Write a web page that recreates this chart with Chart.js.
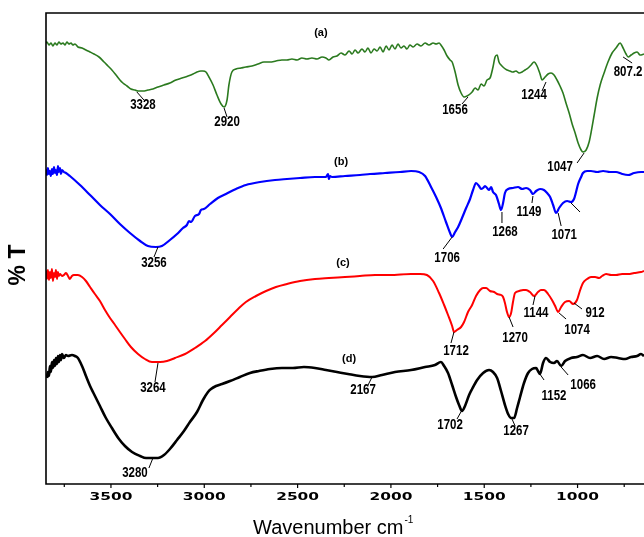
<!DOCTYPE html>
<html>
<head>
<meta charset="utf-8">
<script src="https://cdn.jsdelivr.net/npm/chart.js@4/dist/chart.umd.min.js"></script>
<style>
html,body{margin:0;padding:0;background:#fff;overflow:hidden;}
canvas{display:block;}
</style>
</head>
<body>
<canvas id="c" width="644" height="537"></canvas>
<script>
// ---- data: wavenumber (cm-1) and transmittance (arbitrary, offset) ----
const wnA = [3854,3843,3832,3821,3811,3800,3789,3779,3768,3757,3746,3736,3725,3714,3704,3693,3677,3655,3634,3612,3591,3564,3537,3516,3495,3473,3452,3436,3414,3393,3371,3355,3328,3302,3275,3248,3216,3184,3152,3119,3087,3060,3039,3018,3007,2991,2975,2953,2932,2910,2894,2878,2868,2852,2830,2803,2777,2744,2712,2680,2648,2616,2584,2557,2530,2503,2477,2450,2423,2396,2369,2348,2332,2310,2289,2267,2246,2224,2208,2192,2176,2155,2139,2123,2107,2090,2074,2058,2042,2026,2010,1994,1978,1962,1946,1930,1914,1898,1881,1860,1839,1817,1796,1774,1758,1742,1732,1715,1699,1683,1672,1656,1640,1624,1608,1592,1576,1565,1549,1533,1517,1501,1485,1469,1453,1442,1431,1421,1410,1394,1378,1362,1346,1330,1313,1297,1281,1265,1249,1233,1217,1201,1190,1174,1158,1142,1126,1110,1094,1078,1062,1045,1029,1013,997,981,971,954,938,928,911,895,879,858,837,815,794,772,756,740,729,713,697,681,665,644];
const tA = [440,442,439,441,438,441,439,442,440,441,439,442,440,441,439,440,437,436,434,432,430,427,422,418,414,409,404,401,398,395,394,393,393,394,395,397,399,401,404,406,408,410,412,413,413,412,407,399,389,380,377,384,399,412,415,416,417,418,420,422,422,423,424,424,425,424,426,425,426,425,427,426,424,427,428,431,429,433,430,434,431,435,432,436,431,435,433,437,432,438,434,439,435,440,436,438,435,439,437,440,438,441,439,441,440,441,439,434,428,424,422,412,399,391,387,388,390,392,396,394,400,398,404,406,417,427,429,422,419,416,414,413,412,413,411,412,414,416,419,422,418,410,404,407,410,411,409,404,398,391,381,371,360,351,341,334,332,334,342,351,369,386,399,411,422,431,436,441,436,430,427,429,431,432,429,430];

const wnB = [3854,3848,3843,3838,3832,3827,3822,3816,3811,3805,3800,3795,3789,3784,3779,3773,3768,3762,3752,3741,3720,3666,3612,3559,3505,3452,3398,3344,3302,3259,3227,3184,3146,3114,3093,3082,3071,3050,3028,3018,3002,2969,2927,2884,2830,2777,2701,2621,2557,2487,2407,2348,2337,2332,2326,2316,2246,2166,2112,2032,1951,1892,1849,1817,1785,1758,1732,1705,1683,1672,1656,1640,1619,1597,1576,1560,1544,1528,1517,1506,1496,1485,1474,1463,1453,1437,1421,1410,1399,1389,1372,1346,1319,1297,1276,1255,1239,1222,1201,1180,1163,1147,1131,1115,1099,1078,1056,1035,1019,1008,997,981,971,949,928,895,863,826,794,761,729,697,660,644];
const tB = [311,314,309,316,310,313,308,315,310,317,311,314,309,318,312,316,310,314,312,311,308,299,289,279,270,260,251,243,238,237,238,244,250,256,259,263,262,268,270,274,275,280,286,290,295,299,302,304,305,306,307,307,310,305,308,307,308,309,310,311,312,313,312,308,297,287,276,262,251,247,252,257,266,276,285,294,301,298,295,296,298,296,294,297,292,289,280,274,281,291,295,296,297,295,296,294,290,293,295,294,291,287,279,271,276,281,283,282,285,292,300,307,311,313,313,312,313,312,312,310,309,311,312,312];

const wnC = [3854,3848,3843,3838,3832,3827,3822,3816,3811,3805,3800,3795,3789,3784,3779,3773,3762,3752,3741,3730,3720,3709,3698,3677,3655,3634,3612,3586,3559,3532,3505,3478,3452,3425,3393,3355,3318,3280,3237,3200,3157,3103,3050,2996,2948,2905,2862,2819,2777,2723,2669,2616,2557,2487,2407,2332,2246,2166,2085,2005,1892,1844,1807,1774,1742,1715,1694,1672,1662,1646,1624,1608,1587,1565,1544,1522,1506,1490,1469,1447,1431,1410,1399,1389,1378,1367,1356,1346,1335,1313,1292,1276,1255,1233,1212,1196,1180,1158,1137,1120,1104,1088,1067,1045,1024,1003,986,971,949,928,906,885,869,847,820,794,761,729,697,660,644];
const tC = [209,213,205,214,204,212,206,215,203,211,207,214,205,212,208,210,208,209,211,208,205,208,209,209,207,203,197,190,183,174,166,159,152,145,137,130,125,122,122,123,126,130,136,143,151,159,167,175,182,188,193,197,200,203,205,206,207,208,209,209,210,210,209,203,191,179,169,158,152,154,157,162,172,179,188,194,196,196,193,192,190,189,187,181,172,167,171,182,191,193,194,194,192,188,192,194,194,190,184,178,172,177,182,183,180,184,194,201,205,207,207,206,208,210,209,209,210,210,211,212,213];

const wnD = [3843,3838,3832,3827,3822,3816,3811,3805,3800,3795,3789,3784,3779,3773,3768,3762,3752,3741,3730,3709,3693,3677,3655,3634,3612,3591,3559,3527,3495,3457,3425,3387,3344,3312,3280,3248,3216,3184,3146,3109,3077,3039,3007,2980,2964,2937,2905,2862,2809,2755,2707,2648,2584,2525,2466,2407,2348,2289,2230,2166,2101,2048,1978,1892,1817,1764,1732,1715,1694,1672,1651,1635,1619,1603,1581,1565,1538,1506,1474,1453,1431,1410,1389,1372,1356,1340,1324,1308,1287,1265,1244,1222,1212,1201,1185,1169,1147,1126,1110,1088,1067,1035,1003,971,933,895,858,820,783,745,713,681,660,644];
const tD = [106,112,108,118,112,122,116,124,118,126,120,128,122,129,124,130,126,129,128,129,128,126,118,108,98,90,78,66,56,45,38,32,28,26,26,26,29,35,44,53,62,72,84,92,95,98,100,103,107,111,113,115,116,116,117,116,114,112,110,108,107,109,112,114,117,119,122,118,111,99,87,79,73,78,89,95,104,111,114,112,106,93,79,70,66,66,76,87,101,111,115,116,113,110,121,126,122,121,123,118,123,126,127,129,126,128,125,127,126,125,127,128,130,128];

const seriesNames = ['(a)','(b)','(c)','(d)'];
const seriesColors = ['#2b7a1f','#0000ff','#ff0000','#000000'];
const majorTicks = [3500,3000,2500,2000,1500,1000];
const minorTicks = [3750,3250,2750,2250,1750,1250,750];

// series label positions (wavenumber, transmittance)
const seriesLabelWn = [2375,2267,2257,2224];
const seriesLabelT = [451,322,221,125];

// peak annotations: text, anchor on curve (wn, T), leader end offset px, label offset px
const peaks = [
  ['3328',3361,392,[7,8],[6,13]],
  ['2920',2894,376,[3,9],[3,14]],
  ['1656',1587,387,[-6,7],[-13,13]],
  ['1244',1169,402,[-4,9],[-12,13]],
  ['1047',965,331,[-7,10],[-24,14]],
  ['807.2',756,427,[9,6],[5,15]],
  ['3256',3248,237,[-4,10],[-4,16]],
  ['1706',1672,247,[-9,12],[-5,21]],
  ['1268',1405,272,[0,11],[3,20]],
  ['1149',1239,288,[-1,7],[-4,16]],
  ['1071',1104,271,[3,13],[6,22]],
  ['',1035,281,[9,9],[0,0]],
  ['3264',3248,121,[-3,19],[-5,25]],
  ['1712',1662,152,[-3,11],[2,19]],
  ['1270',1367,167,[4,10],[6,21]],
  ['1144',1228,188,[-2,9],[1,17]],
  ['1074',1099,171,[7,6],[18,17]],
  ['912',1019,181,[8,6],[21,10]],
  ['3280',3275,26,[-4,10],[-18,15]],
  ['2167',2101,107,[-4,8],[-9,13]],
  ['1702',1619,74,[-5,9],[-12,15]],
  ['1267',1356,67,[4,9],[5,14]],
  ['1152',1217,114,[7,10],[17,26]],
  ['1066',1088,117,[7,8],[22,18]]
];

function pts(wn, t){ return wn.map((w,i)=>({x:w,y:t[i]})); }

function stretchText(ctx, txt, x, y, sx){
  ctx.save(); ctx.translate(x,y); ctx.scale(sx,1); ctx.fillText(txt,0,0); ctx.restore();
}

const decor = {
  id:'decor',
  afterDatasetsDraw(chart){
    const ctx = chart.ctx, xs = chart.scales.x, ys = chart.scales.y, a = chart.chartArea;
    ctx.save();
    // frame
    ctx.strokeStyle = '#000'; ctx.lineWidth = 1.6;
    ctx.beginPath();
    ctx.moveTo(a.right+2, a.top); ctx.lineTo(a.left, a.top); ctx.lineTo(a.left, a.bottom); ctx.lineTo(a.right+2, a.bottom);
    ctx.stroke();
    // ticks
    ctx.lineWidth = 1.2;
    majorTicks.forEach(v=>{ const px = xs.getPixelForValue(v); ctx.beginPath(); ctx.moveTo(px,a.bottom); ctx.lineTo(px,a.bottom+4); ctx.stroke(); });
    minorTicks.forEach(v=>{ const px = xs.getPixelForValue(v); ctx.beginPath(); ctx.moveTo(px,a.bottom); ctx.lineTo(px,a.bottom+3); ctx.stroke(); });
    // tick labels
    ctx.fillStyle = '#000'; ctx.textAlign = 'center'; ctx.textBaseline = 'middle';
    ctx.font = 'bold 11px "DejaVu Sans"';
    majorTicks.forEach(v=>{ stretchText(ctx, String(v), xs.getPixelForValue(v), a.bottom+13, 1.4); });
    // x title
    ctx.font = '20px "Liberation Sans", Arial, sans-serif';
    ctx.textAlign = 'left'; ctx.textBaseline = 'alphabetic';
    const t1 = 'Wavenumber cm';
    ctx.fillText(t1, 253, 534);
    const w1 = ctx.measureText(t1).width;
    ctx.font = '10px "Liberation Sans", Arial, sans-serif';
    ctx.fillText('-1', 253 + w1 + 1, 523);
    // y title
    ctx.save();
    ctx.translate(19, 265); ctx.rotate(-Math.PI/2);
    ctx.font = 'bold 23px "Liberation Sans", Arial, sans-serif';
    ctx.textAlign = 'center'; ctx.textBaseline = 'middle';
    ctx.fillText('% T', 0, 0);
    ctx.restore();
    // series labels
    ctx.font = 'bold 11px "Liberation Sans", Arial, sans-serif';
    ctx.textAlign = 'center'; ctx.textBaseline = 'middle';
    seriesNames.forEach((n,i)=>{ ctx.fillText(n, xs.getPixelForValue(seriesLabelWn[i]), ys.getPixelForValue(seriesLabelT[i])); });
    // peak annotations
    ctx.lineWidth = 1; ctx.strokeStyle = '#000';
    ctx.font = 'bold 14px "Liberation Sans", Arial, sans-serif';
    peaks.forEach(p=>{
      const px = xs.getPixelForValue(p[1]), py = ys.getPixelForValue(p[2]);
      ctx.beginPath(); ctx.moveTo(px,py); ctx.lineTo(px+p[3][0], py+p[3][1]); ctx.stroke();
      if (p[0]) stretchText(ctx, p[0], px+p[4][0], py+p[4][1], 0.82);
    });
    ctx.restore();
  }
};

const lineWidths = [1.6, 2.2, 2, 2.6];
const sets = [pts(wnA,tA), pts(wnB,tB), pts(wnC,tC), pts(wnD,tD)];

new Chart(document.getElementById('c'), {
  type: 'line',
  data: {
    datasets: sets.map((d,i)=>({
      label: seriesNames[i], data: d, borderColor: seriesColors[i], backgroundColor: seriesColors[i],
      borderWidth: lineWidths[i], pointRadius: 0, fill: false, cubicInterpolationMode: 'monotone'
    }))
  },
  options: {
    responsive: false, animation: false, devicePixelRatio: 1,
    layout: { padding: { left: 46, top: 13, right: 0, bottom: 53 } },
    plugins: { legend: { display: false }, tooltip: { enabled: false } },
    scales: {
      x: { type: 'linear', reverse: true, min: 644, max: 3848, display: false },
      y: { type: 'linear', min: 0, max: 471, display: false }
    }
  },
  plugins: [decor]
});
</script>
</body>
</html>
